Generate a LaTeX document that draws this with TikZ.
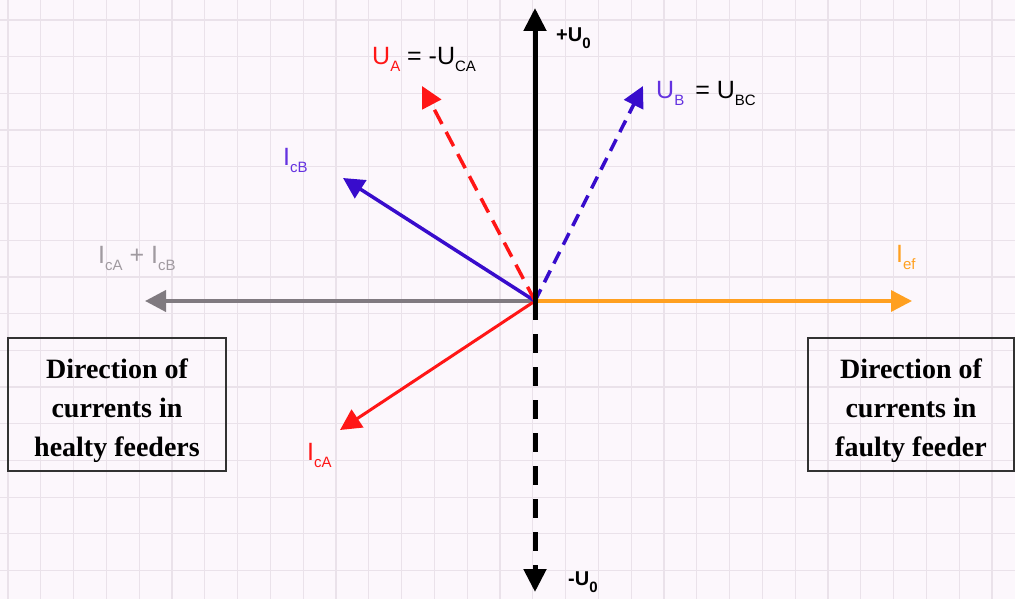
\documentclass[tikz,border=0pt]{standalone}
\usepackage{fontspec}
\setmainfont{Liberation Serif}
\setsansfont{Liberation Sans}
\usetikzlibrary{arrows.meta}
\definecolor{bgpink}{RGB}{252,247,252}
\definecolor{gridpink}{RGB}{234,226,234}
\definecolor{phred}{RGB}{255,22,22}
\definecolor{phblue}{RGB}{56,12,204}
\definecolor{lblblue}{RGB}{100,50,224}
\definecolor{phgray}{RGB}{128,122,128}
\definecolor{lblgray}{RGB}{160,154,160}
\definecolor{phorange}{RGB}{255,160,32}
\definecolor{boxgray}{RGB}{50,50,50}
\newcommand{\ph}[2]{#1\raisebox{-7pt}{\fontsize{15}{15}\selectfont #2}}

\begin{document}
\begin{tikzpicture}[x=1pt,y=-1pt]
    \tikzset{phasor/.style={line width=3.5pt,-{Triangle[length=21pt,width=21pt]}},
        axis/.style={line width=5pt,-{Triangle[length=23pt,width=22pt]}},
        gridline/.style={gridpink,line width=1.2pt},
        lbl/.style={anchor=base west,inner sep=0pt,font=\sffamily\fontsize{25}{25}\selectfont},
        infobox/.style={draw=boxgray,line width=1.5pt,align=center,inner sep=0pt,
            font=\bfseries\fontsize{28}{39}\selectfont}}
    \useasboundingbox (0,0) rectangle (1015,599);
    \fill[bgpink] (0,0) rectangle (1015,599);
    \foreach \i in {0,...,30} \draw[gridline] ({8+32.8*\i},0) -- ({8+32.8*\i},599);
    \foreach \j in {0,...,15} \draw[gridline] (0,{20+36.7*\j}) -- (1015,{20+36.7*\j});
    \coordinate (O) at (535,301);
    \coordinate (Ptop) at (535,8);
    \coordinate (Pbot) at (535,592);
    \coordinate (UA) at (422,86);
    \coordinate (UB) at (643,86);
    \coordinate (IcB) at (343,178);
    \coordinate (IcA) at (340,430);
    \coordinate (Isum) at (145,301);
    \coordinate (Ief) at (912,301);
    \draw[phasor,phgray,line width=4pt] (O) -- (Isum);
    \draw[phasor,phorange] (O) -- (Ief);
    \draw[phasor,phred,line width=3pt] (O) -- (IcA);
    \draw[phasor,phblue] (O) -- (IcB);
    \draw[phasor,phred,dash pattern=on 16pt off 9pt] (O) -- (UA);
    \draw[phasor,phblue,dash pattern=on 13pt off 8pt] (O) -- (UB);
    \draw[axis] (O) -- (Ptop);
    \draw[axis,dash pattern=on 19pt off 14pt] (O) -- (Pbot);
    \node[lbl,font=\sffamily\bfseries\fontsize{20}{20}\selectfont] (uplbl) at (556,42) {+\ph{U}{0}};
    \node[lbl,font=\sffamily\bfseries\fontsize{20}{20}\selectfont] (downlbl) at (568,585) {-\ph{U}{0}};
    \node[lbl] (ualbl) at (372,65) {\textcolor{phred}{\ph{U}{A}} = -\ph{U}{CA}};
    \node[lbl] (ublbl) at (656,99) {\textcolor{lblblue}{\ph{U}{B}}\, = \ph{U}{BC}};
    \node[lbl,lblblue] (icblbl) at (283,165) {\ph{I}{cB}};
    \node[lbl,lblgray] (isumlbl) at (98,263) {\ph{I}{cA} + \ph{I}{cB}};
    \node[lbl,phorange] (ieflbl) at (896,262) {\ph{I}{ef}};
    \node[lbl,phred] (icalbl) at (307,460) {\ph{I}{cA}};
    \node[infobox,minimum width=218pt,minimum height=133pt] (healthy) at (117,404.5)
        {\rule{0pt}{33pt}Direction of\\currents in\\healty feeders};
    \node[infobox,minimum width=206pt,minimum height=133pt] (faulty) at (911,404.5)
        {\rule{0pt}{33pt}Direction of\\currents in\\faulty feeder};
\end{tikzpicture}
\end{document}
